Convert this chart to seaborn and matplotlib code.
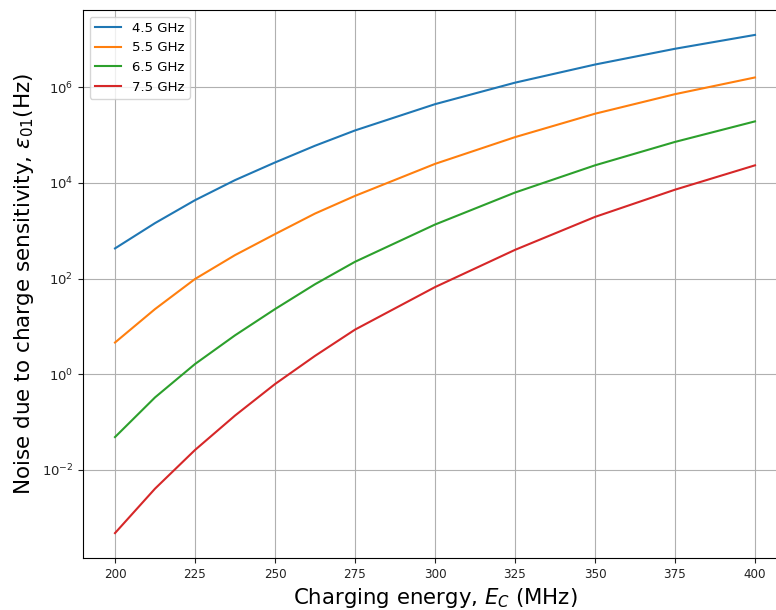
import numpy as np
import pandas as pd
import matplotlib
matplotlib.use("Agg")
import matplotlib.pyplot as plt
from matplotlib.ticker import NullLocator, FixedLocator
import seaborn as sns

# Charging energy samples (MHz)
charging_energy = [200, 212.5, 225, 237.5, 250, 262.5, 275, 300, 325, 350, 375, 400]

# Charge-dispersion noise (Hz) for each qubit frequency
noise_4p5 = [427, 1445, 4365, 11480, 26900, 60260, 125900, 446700, 1.26e6, 3.02e6, 6.46e6, 1.26e7]
noise_5p5 = [4.57, 22.9, 97.7, 309, 851, 2291, 5370, 25120, 91200, 2.82e5, 7.24e5, 1.62e6]
noise_6p5 = [0.0479, 0.324, 1.62, 6.46, 22.9, 75.9, 224, 1349, 6310, 23440, 72440, 1.95e5]
noise_7p5 = [4.68e-4, 3.98e-3, 0.0257, 0.135, 0.617, 2.40, 8.51, 66.1, 398, 1950, 7244, 23440]

frequency_labels = ["4.5 GHz", "5.5 GHz", "6.5 GHz", "7.5 GHz"]
series = [noise_4p5, noise_5p5, noise_6p5, noise_7p5]

x_ticks = [200, 225, 250, 275, 300, 325, 350, 375, 400]
y_ticks = [1e-2, 1e0, 1e2, 1e4, 1e6]

df = pd.concat(
    [pd.DataFrame({"Ec": charging_energy, "noise": vals, "freq": lab})
     for lab, vals in zip(frequency_labels, series)],
    ignore_index=True,
)

fig = plt.figure(figsize=(7.76, 6.10), dpi=100)
ax = fig.add_axes([83 / 776, 52 / 610, 704 / 776, 548 / 610])

sns.lineplot(
    data=df, x="Ec", y="noise", hue="freq", hue_order=frequency_labels,
    palette=["#1f77b4", "#ff7f0e", "#2ca02c", "#d62728"],
    sort=False, estimator=None, linewidth=1.5, ax=ax,
)

ax.set_yscale("log")
ax.yaxis.set_major_locator(FixedLocator(y_ticks))
ax.yaxis.set_minor_locator(NullLocator())
ax.set_xticks(x_ticks)
ax.grid(True, color="#b0b0b0", linewidth=0.8)
ax.set_axisbelow(True)

ax.set_xlabel(r"Charging energy, $E_C$ (MHz)", fontsize=15.3)
ax.set_ylabel(r"Noise due to charge sensitivity, $\varepsilon_{01}$(Hz)", fontsize=15.5)
ax.tick_params(labelsize=9.5, colors="#222222", labelcolor="#222222")
for lbl in ax.get_xticklabels():
    lbl.set_fontstretch("condensed")

handles, labels = ax.get_legend_handles_labels()
ax.legend(handles, labels, loc="upper left", fontsize=9.5)

fig.savefig("out.png", dpi=100)
